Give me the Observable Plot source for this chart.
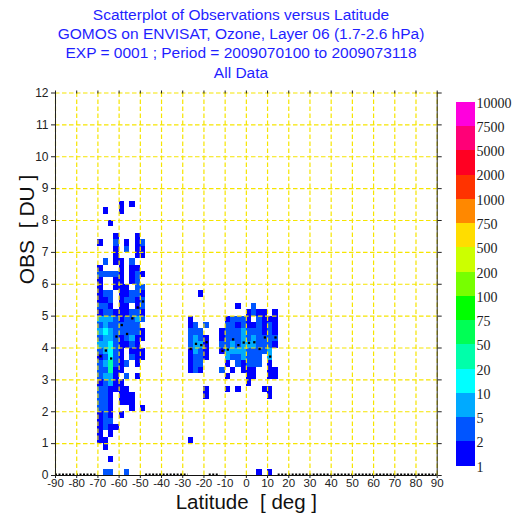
<!DOCTYPE html>
<html><head><meta charset="utf-8">
<script src="https://cdn.jsdelivr.net/npm/d3@7"></script>
<script src="https://cdn.jsdelivr.net/npm/@observablehq/plot@0.6"></script>
<style>
body{margin:0;background:#fff;width:515px;height:518px;overflow:hidden;position:relative;font-family:"Liberation Sans",Arial,sans-serif}
#title{position:absolute;left:0;top:5px;width:482px;text-align:center;color:#1f1fff;font-size:15.5px;line-height:19.2px}
#chart{position:absolute;left:0;top:82px}
#cbar{position:absolute;left:450px;top:90px}
svg text{white-space:pre}
</style></head><body>
<div id="title"></div>
<div id="chart"></div>
<div id="cbar"></div>
<script>
// ---- text ----
const titleLines = [
  "Scatterplot of Observations versus Latitude",
  "GOMOS on ENVISAT, Ozone, Layer 06 (1.7-2.6 hPa)",
  "EXP = 0001 ; Period = 2009070100 to 2009073118",
  "All Data"
];
const xLabel = "Latitude  [ deg ]";
const yLabel = "OBS  [ DU ]";
const latTicks = [-90,-80,-70,-60,-50,-40,-30,-20,-10,0,10,20,30,40,50,60,70,80,90];
const obsTicks = [0,1,2,3,4,5,6,7,8,9,10,11,12];

// ---- colour classes ----
const legendLabels = ["1","2","5","10","20","50","75","100","200","500","750","1000","2000","5000","7500","10000"];
const legendThresholds = [2,5,10,20,50,75,100,200,500,750,1000,2000,5000,7500];
const legendColors = ["#0000ff","#0055ff","#00aaff","#00ffff","#00ffaa","#00ff55","#00ff00","#77ff00","#ccff00","#ffdd00","#ff8800","#ff3300","#ff0022","#ff0077","#ff00dd"];
// representative count for the class digit used in the grids below (1..5)
const levelCounts = [1, 3, 7, 15, 30];

// ---- binned observation counts (lat bins 2.5 deg, OBS bins 0.2 DU) ----
const latStep = 2.5, obsStep = 0.2;
// cluster A: first column lat -70, first row = OBS bin 42 (8.4-8.6 DU)
const latA = -70, topRowA = 42;
const rowsA = [
  "....1.1..",
  ".1..1....",
  ".........",
  "..1......",
  ".........",
  "...1...1.",
  "1..2.1.12",
  "...1.2.11",
  "...1...11",
  ".2.11.2..",
  "1...1.11.",
  "22221.121",
  "1..11.12.",
  "1..111.22",
  "122.11221",
  "112.12212",
  "221.11.12",
  "122111221",
  "333212232",
  "23222222.",
  "343222221",
  "233212311",
  "33421121.",
  "23421.111",
  "12421.211",
  "235212.1.",
  "22511....",
  "2331.2.1.",
  "12311....",
  "221111...",
  "221.111..",
  "221.111..",
  "221...1.1",
  "121.1....",
  "122......",
  "1211.....",
  "1.1......",
  "11.......",
  ".1.......",
  ".........",
  "..1......",
  ".........",
  ".22..2..."
];
// cluster B: first column lat -27.5, first row = OBS bin 28 (5.6-5.8 DU)
const latB = -27.5, topRowB = 28;
const rowsB = [
  "..1.",
  "....",
  "....",
  "....",
  "1...",
  "12.2",
  "222.",
  "2321",
  "2331",
  "1321",
  "1221",
  "122.",
  "121.",
  "....",
  "....",
  "...1",
  "...1",
  "....",
  "....",
  "....",
  "....",
  "....",
  "....",
  "1..."
];
// cluster C: first column lat -12.5, first row = OBS bin 26 (5.2-5.4 DU)
const latC = -12.5, topRowC = 26;
const rowsC = [
  "...1..2....",
  ".....1211.1",
  ".12221.2111",
  ".2212112121",
  "12223222121",
  "12223232222",
  "22323332221",
  "1333322223.",
  ".3223222.3.",
  ".1.21222.1.",
  "2.1.111..11",
  ".1...11..11",
  ".....1.....",
  ".1.1....11.",
  ".........1.",
  "...........",
  "...........",
  "...........",
  "...........",
  "...........",
  "...........",
  "...........",
  "...........",
  "...........",
  "...........",
  "...........",
  ".......1.1."
];
// mean OBS per latitude bin (black points)
const meanLat = [-68.75,-66.25,-63.75,-61.25,-58.75,-56.25,-53.75,-51.25,-48.75,
                 -26.25,-23.75,-21.25,-18.75,
                 -11.25,-8.75,-6.25,-3.75,-1.25,1.25,3.75,6.25,8.75,11.25,13.75];
const meanObs = [3.74,3.92,3.67,4.36,4.72,4.44,4.93,5.27,5.46,
                 3.97,4.13,4.09,4.18,
                 3.91,3.95,4.27,4.09,4.17,4.16,4.18,3.97,4.33,3.73,4.33];
// latitude ranges with no data (mean drawn at 0)
const zeroRanges = [[-90,-70],[-47.5,-27.5],[-17.5,-12.5],[15,90]];

// ---- build cells ----
const cells = [];
function addCells(rows, lat0, topRow) {
  rows.forEach((row, r) => {
    [...row].forEach((ch, c) => {
      if (ch === ".") return;
      cells.push({lat: lat0 + c * latStep, obs: (topRow - r) * obsStep, count: levelCounts[+ch - 1]});
    });
  });
}
addCells(rowsA, latA, topRowA);
addCells(rowsB, latB, topRowB);
addCells(rowsC, latC, topRowC);

document.getElementById("title").innerHTML = titleLines.map(t => `<div>${t}</div>`).join("");

const gridColor = "#f6e500";
const plainNum = d => String(d);
const chart = Plot.plot({
  width: 515, height: 436,
  marginTop: 10.5, marginBottom: 43, marginLeft: 55, marginRight: 78.3,
  x: {domain: [-90, 90]},
  y: {domain: [0, 12]},
  color: {type: "threshold", domain: legendThresholds, range: legendColors},
  style: {fontFamily: "'Liberation Sans', Arial, sans-serif", fontSize: "12px", color: "#222", background: "white", overflow: "visible"},
  marks: [
    Plot.ruleY(zeroRanges, {x1: d => d[0], x2: d => d[1], y: () => 0, stroke: "black", strokeWidth: 2, strokeDasharray: "2,1.5", dy: -1}),
    Plot.rect(cells, {x1: "lat", x2: d => d.lat + latStep, y1: "obs", y2: d => d.obs + obsStep, fill: "count", shapeRendering: "crispEdges"}),
    Plot.ruleX(latTicks, {stroke: gridColor, strokeWidth: 1.2, strokeDasharray: "4.5,2.5"}),
    Plot.ruleY(obsTicks, {stroke: gridColor, strokeWidth: 1.2, strokeDasharray: "4.5,2.5"}),
    Plot.ruleX([-90, 90], {stroke: "#222", strokeWidth: 1}),
    Plot.ruleY([0], {stroke: "#111", strokeWidth: 1}),
    Plot.dot(meanLat, {x: d => d, y: (d, i) => meanObs[i], symbol: "square", r: 1.3, fill: "black", stroke: "none"}),
    Plot.axisX({ticks: latTicks, tickSize: 3, tickPadding: 0, tickFormat: plainNum, label: null, fontSize: 11.5}),
    Plot.axisX({anchor: "top", ticks: latTicks, tickSize: 3, tickFormat: () => "", label: null}),
    Plot.axisY({ticks: obsTicks, tickSize: 4, tickPadding: 3, tickFormat: plainNum, label: null, fontSize: 12}),
    Plot.axisY({anchor: "right", ticks: obsTicks, tickSize: 4, tickFormat: () => "", label: null}),
    Plot.text([xLabel], {frameAnchor: "bottom", dy: 33, fontSize: 20.5, fill: "#111"}),
    Plot.text([yLabel], {frameAnchor: "left", dx: -28, rotate: -90, fontSize: 21, fill: "#111"})
  ]
});
document.getElementById("chart").append(chart);

// ---- colour bar ----
const classIdx = legendColors.map((c, i) => i);
const cbar = Plot.plot({
  width: 65, height: 390, margin: 0,
  x: {domain: [0, 1], range: [6, 25], axis: null},
  y: {domain: [0, 15], range: [375.7, 11.7], axis: null},
  color: {type: "identity"},
  style: {fontFamily: "'Liberation Serif', 'Times New Roman', serif", fontSize: "14px", color: "#222", background: "none", overflow: "visible"},
  marks: [
    Plot.rect(classIdx, {x1: () => 0, x2: () => 1, y1: d => d, y2: d => d + 1, fill: d => legendColors[d], shapeRendering: "crispEdges"}),
    Plot.text(legendLabels, {x: () => 1, y: (d, i) => i, text: d => d, textAnchor: "start", dx: 1, dy: 1, fontSize: 14})
  ]
});
document.getElementById("cbar").append(cbar);
</script>
</body></html>
